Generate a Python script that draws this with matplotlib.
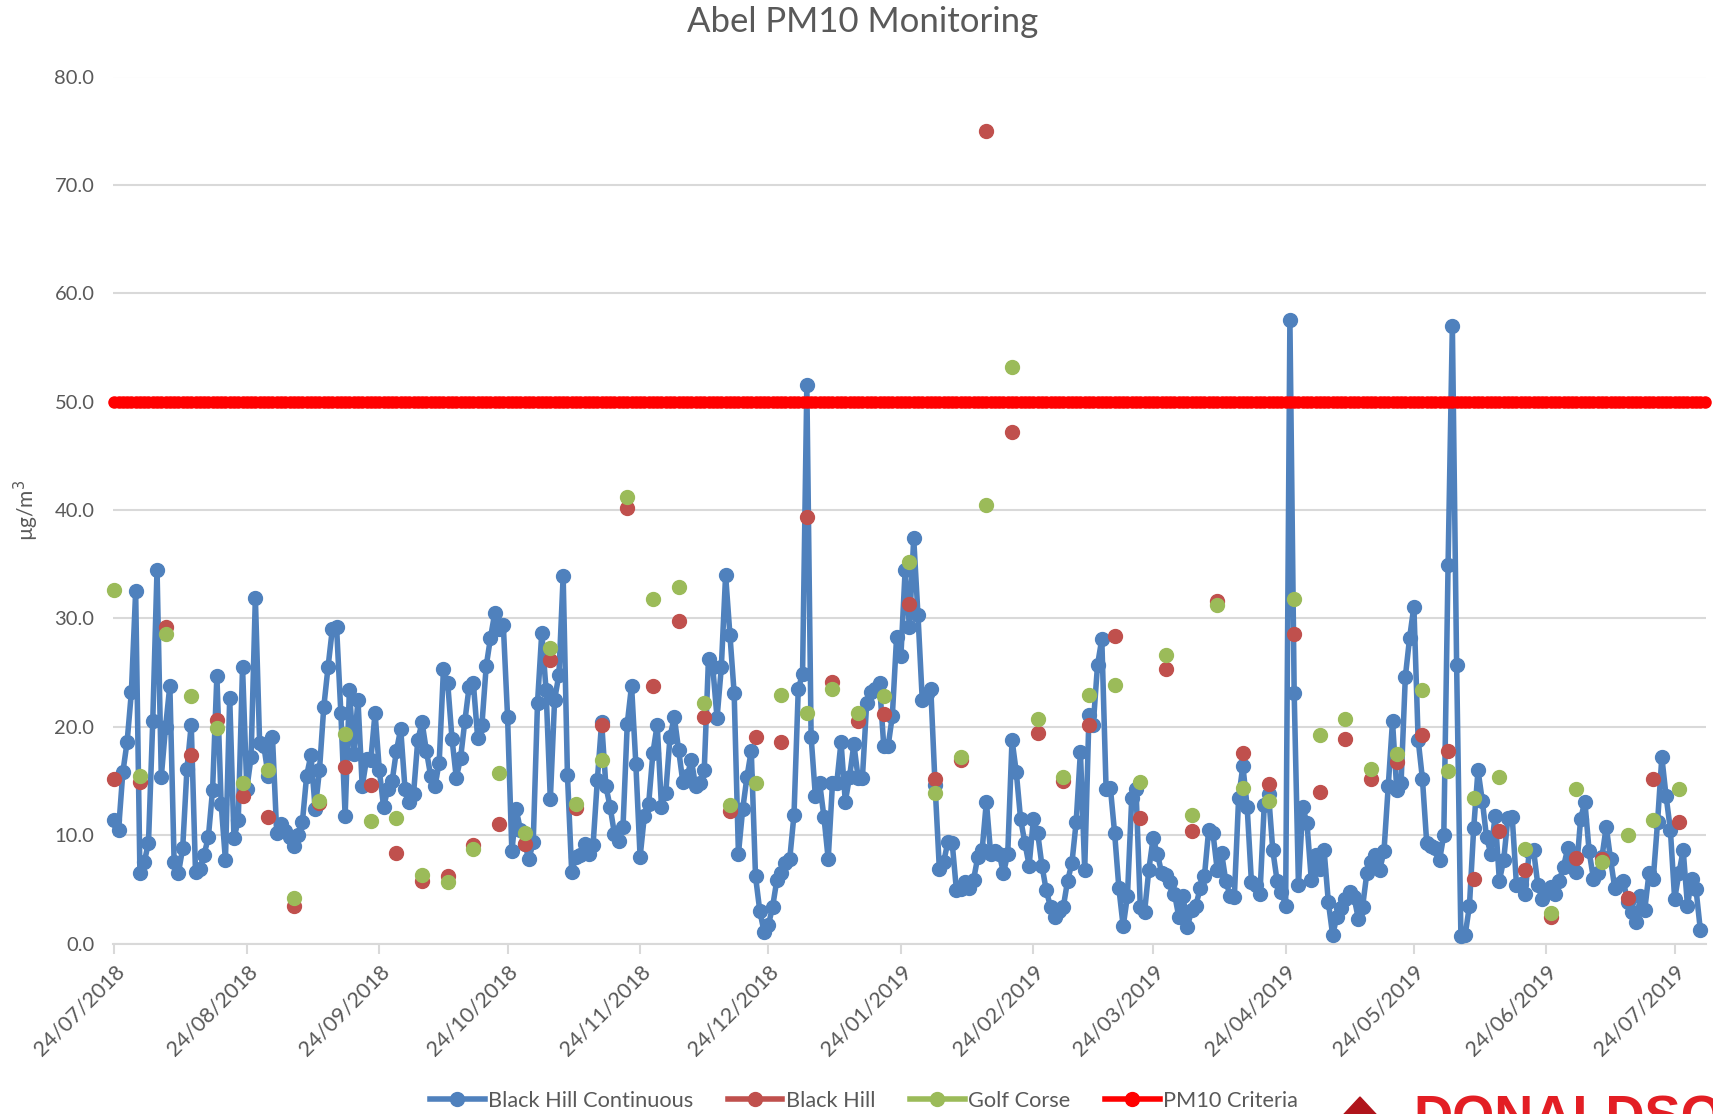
import matplotlib
matplotlib.use("Agg")
import matplotlib.pyplot as plt
import matplotlib.dates as mdates
from matplotlib.patches import Polygon
from matplotlib.lines import Line2D
import pandas as pd

plt.rcParams['font.family'] = ['Lato', 'DejaVu Sans']

start = "2018-07-24"

# Black Hill Continuous - daily values
continuous = [
    11.4, 10.5, 15.8, 18.6, 23.2, 32.5, 6.5, 7.5, 9.3, 20.5,
    34.5, 15.4, 20.0, 23.8, 7.5, 6.5, 8.8, 16.1, 20.2, 6.6,
    6.9, 8.2, 9.8, 14.2, 24.7, 12.9, 7.7, 22.7, 9.7, 11.4,
    25.5, 14.3, 17.2, 31.9, 18.5, 18.2, 15.5, 19.1, 10.2, 11.0,
    10.4, 9.8, 9.0, 10.0, 11.2, 15.5, 17.4, 12.4, 16.0, 21.8,
    25.5, 29.0, 29.2, 21.3, 11.8, 23.4, 17.5, 22.5, 14.5, 17.0,
    16.9, 21.3, 16.0, 12.6, 14.3, 15.0, 17.8, 19.8, 14.3, 13.1,
    13.8, 18.8, 20.4, 17.8, 15.5, 14.5, 16.7, 25.3, 24.0, 18.9,
    15.3, 17.1, 20.5, 23.7, 24.0, 19.0, 20.2, 25.6, 28.2, 30.5,
    29.0, 29.4, 20.9, 8.5, 12.4, 10.5, 9.2, 7.8, 9.4, 22.2,
    28.7, 23.4, 13.3, 22.5, 24.8, 33.9, 15.6, 6.6, 8.0, 8.2,
    9.2, 8.3, 9.1, 15.1, 20.4, 14.5, 12.6, 10.1, 9.5, 10.8,
    20.3, 23.8, 16.6, 8.0, 11.8, 12.9, 17.6, 20.2, 12.6, 13.9,
    19.1, 20.9, 17.9, 14.9, 15.5, 16.9, 14.5, 14.8, 16.0, 26.3,
    25.5, 20.8, 25.5, 34.0, 28.5, 23.1, 8.3, 12.4, 15.4, 17.8,
    6.2, 3.0, 1.1, 1.7, 3.4, 5.9, 6.5, 7.4, 7.8, 11.9,
    23.5, 24.9, 51.5, 19.1, 13.6, 14.8, 11.7, 7.8, 14.8, 14.8,
    18.6, 13.1, 15.4, 18.4, 15.3, 15.3, 22.2, 23.2, 23.5, 24.0,
    18.2, 18.2, 21.0, 28.3, 26.5, 34.5, 29.2, 37.4, 30.3, 22.5,
    23.0, 23.5, 14.6, 6.9, 7.5, 9.4, 9.3, 4.9, 5.0, 5.7,
    5.1, 5.9, 8.0, 8.6, 13.1, 8.3, 8.5, 8.3, 6.5, 8.3,
    18.8, 15.8, 11.5, 9.3, 7.2, 11.5, 10.2, 7.2, 4.9, 3.4,
    2.5, 3.0, 3.4, 5.8, 7.4, 11.2, 17.7, 6.8, 21.1, 20.2,
    25.7, 28.1, 14.3, 14.4, 10.2, 5.1, 1.6, 4.4, 13.4, 14.3,
    3.4, 2.9, 6.8, 9.7, 8.3, 6.5, 6.3, 5.7, 4.6, 2.5,
    4.4, 1.5, 3.1, 3.5, 5.1, 6.2, 10.5, 10.2, 6.8, 8.4,
    5.8, 4.4, 4.3, 13.4, 16.4, 12.6, 5.7, 5.4, 4.6, 12.8,
    13.8, 8.6, 5.8, 4.8, 3.5, 57.5, 23.1, 5.4, 12.6, 11.1,
    5.9, 8.2, 6.9, 8.6, 3.8, 0.8, 2.5, 3.3, 4.1, 4.8,
    4.3, 2.3, 3.4, 6.5, 7.5, 8.2, 6.8, 8.5, 14.5, 20.5,
    14.2, 14.8, 24.6, 28.2, 31.1, 18.8, 15.2, 9.3, 9.0, 8.8,
    7.7, 10.0, 34.9, 57.0, 25.7, 0.7, 0.8, 3.5, 10.7, 16.0,
    13.2, 9.8, 8.3, 11.8, 5.8, 7.7, 11.6, 11.7, 5.4, 5.5,
    4.6, 8.5, 8.6, 5.4, 4.1, 4.8, 5.2, 4.6, 5.8, 7.1,
    8.8, 7.5, 6.6, 11.5, 13.1, 8.5, 6.0, 6.5, 8.0, 10.8,
    7.8, 5.1, 5.5, 5.8, 3.8, 2.9, 2.0, 4.4, 3.1, 6.5,
    6.0, 11.2, 17.2, 13.6, 10.5, 4.1, 6.5, 8.6, 3.5, 6.0,
    5.0, 1.3,
]

# Black Hill and Golf Corse - one sample every 6 days
black_hill = [
    15.2, 14.9, 29.2, 17.4, 20.6, 13.6, 11.7, 3.5, 13.0, 16.3,
    14.6, 8.4, 5.8, 6.2, 9.1, 11.0, 9.2, 26.2, 12.5, 20.2,
    40.2, 23.8, 29.8, 20.9, 12.2, 19.1, 18.6, 39.4, 24.1, 20.5,
    21.2, 31.3, 15.2, 16.9, 75.0, 47.2, 19.4, 15.0, 20.2, 28.4,
    11.6, 25.3, 10.4, 31.6, 17.6, 14.7, 28.6, 14.0, 18.9, 15.2,
    16.8, 19.2, 17.8, 6.0, 10.4, 6.8, 2.5, 7.9, 7.8, 4.2,
    15.2, 11.2,
]
golf_corse = [
    32.6, 15.5, 28.6, 22.8, 19.9, 14.8, 16.0, 4.2, 13.2, 19.3,
    11.3, 11.6, 6.3, 5.7, 8.7, 15.7, 10.2, 27.3, 12.9, 16.9,
    41.2, 31.8, 32.9, 22.2, 12.8, 14.8, 22.9, 21.3, 23.5, 21.3,
    22.8, 35.2, 13.9, 17.2, 40.5, 53.2, 20.7, 15.4, 22.9, 23.9,
    14.9, 26.6, 11.9, 31.2, 14.4, 13.2, 31.8, 19.2, 20.7, 16.1,
    17.5, 23.4, 15.9, 13.4, 15.4, 8.7, 2.8, 14.3, 7.5, 10.0,
    11.4, 14.3,
]

criteria_value = 50.0
tick_labels = ["24/07/2018", "24/08/2018", "24/09/2018", "24/10/2018", "24/11/2018",
               "24/12/2018", "24/01/2019", "24/02/2019", "24/03/2019", "24/04/2019",
               "24/05/2019", "24/06/2019", "24/07/2019"]
tick_dates = pd.to_datetime(tick_labels, format="%d/%m/%Y")

days = pd.date_range(start, periods=len(continuous), freq="D")
sample_days = pd.date_range(start, periods=len(black_hill), freq="6D")
criteria_days = pd.date_range(start, "2019-07-31", freq="D")
criteria = [criteria_value] * len(criteria_days)

blue = "#4F81BD"
red = "#C0504D"
green = "#9BBB59"
grey = "#595959"

W, H = 1713, 1114
fig = plt.figure(figsize=(W / 100, H / 100), dpi=100)
ax = fig.add_axes([112.5 / W, 1 - 943.6 / H, (1706 - 112.5) / W, (943.6 - 76.5) / H])

ax.plot(days, continuous, color=blue, lw=4, marker="o", ms=10, zorder=3, clip_on=False)
ax.plot(sample_days, black_hill, ls="none", marker="o", ms=10, color=red, zorder=4, clip_on=False)
ax.plot(sample_days, golf_corse, ls="none", marker="o", ms=10, color=green, zorder=5, clip_on=False)
ax.plot(criteria_days, criteria, color="#FF0000", lw=4, marker="o", ms=8, zorder=6, clip_on=False)

ax.set_ylim(0, 80)
ax.set_yticks(range(0, 81, 10))
ax.yaxis.set_major_formatter(plt.FormatStrFormatter("%.1f"))
ax.set_xlim(pd.Timestamp("2018-07-24") - pd.Timedelta(hours=10),
            pd.Timestamp("2019-07-31") + pd.Timedelta(hours=8))
ax.set_xticks(tick_dates)
ax.set_xticklabels(tick_labels)

ax.grid(axis="y", color="#D9D9D9", lw=1.5)
ax.set_axisbelow(True)
for s in ["top", "right", "left"]:
    ax.spines[s].set_visible(False)
ax.spines["bottom"].set_color("#D9D9D9")
ax.spines["bottom"].set_linewidth(1.5)
ax.tick_params(axis="y", length=0, pad=13, labelsize=14.5, labelcolor=grey)
ax.tick_params(axis="x", length=7, width=1.5, color="#D9D9D9", direction="out",
               labelsize=15.5, labelcolor=grey, pad=6)
for lab in ax.get_xticklabels():
    lab.set_rotation(45)
    lab.set_ha("right")
    lab.set_rotation_mode("anchor")

fig.text(863 / W, 1 - 22 / H, "Abel PM10 Monitoring", ha="center", va="center",
         fontsize=25, color=grey)
fig.text(26 / W, 1 - 510 / H, "µg/m$^3$", rotation=90, ha="center", va="center",
         fontsize=15, color=grey)

handles = [
    Line2D([], [], color=blue, lw=4, marker="o", ms=10),
    Line2D([], [], color=red, lw=4, marker="o", ms=10),
    Line2D([], [], color=green, lw=4, marker="o", ms=10),
    Line2D([], [], color="#FF0000", lw=4, marker="o", ms=10),
]
names = ["Black Hill Continuous", "Black Hill", "Golf Corse", "PM10 Criteria"]
fig.legend(handles, names, loc="center left", bbox_to_anchor=(430 / W, 1 - 1101 / H), ncol=4,
           frameon=False, fontsize=15.7, labelcolor=grey, handlelength=2.5,
           handletextpad=0.15, columnspacing=1.6, borderpad=0, borderaxespad=0)

# partially visible logo in the bottom-right corner
tri = Polygon([[1334 / W, 1 - 1125 / H], [1360 / W, 1 - 1097 / H], [1386 / W, 1 - 1125 / H]],
              closed=True, transform=fig.transFigure, color="#B0141B")
fig.patches.append(tri)
fig.text(1413 / W, 1 - 1095 / H, "DONALDSO", ha="left", va="top", fontsize=39,
         fontweight="bold", color="#E31E24", family=["Liberation Sans Narrow", "Liberation Sans"])

fig.savefig("out.png", dpi=100)
